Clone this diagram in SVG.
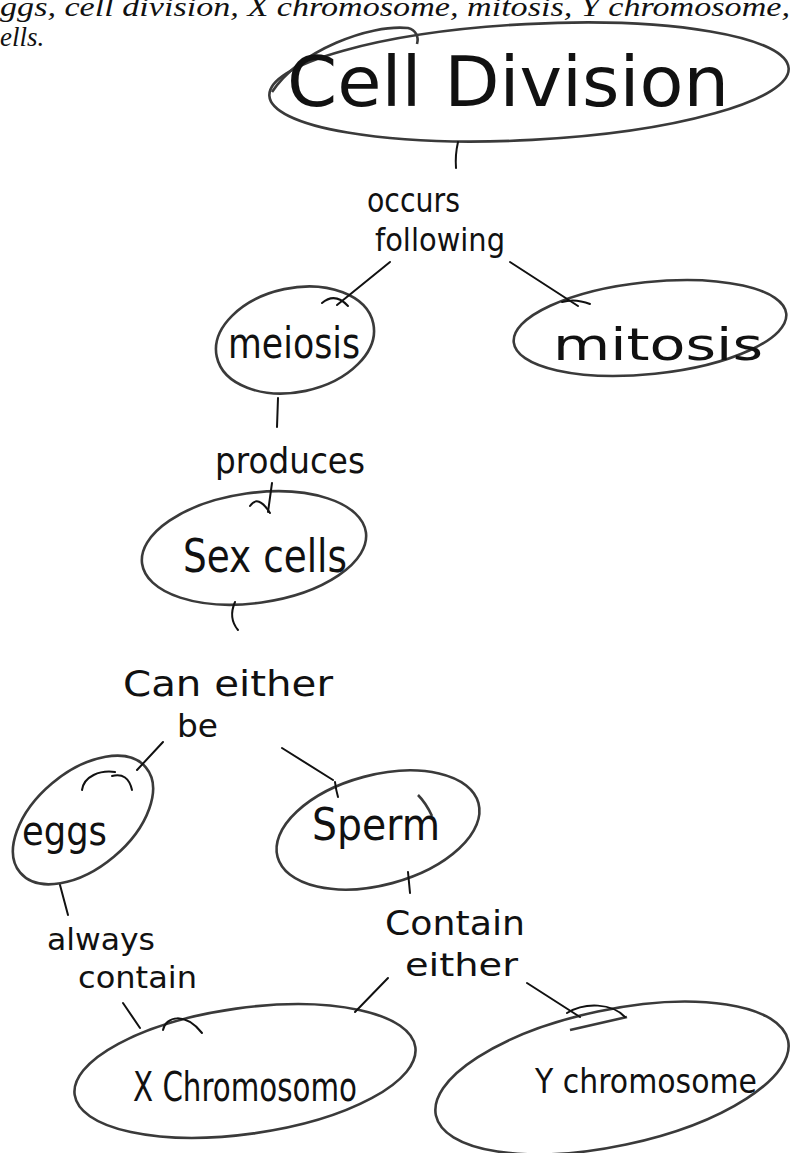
<svg xmlns="http://www.w3.org/2000/svg" width="793" height="1153" viewBox="0 0 793 1153">
<style>
.node{fill:none;stroke:#3a3a3a;stroke-width:2.6}
.hand{font-family:"DejaVu Sans",sans-serif;fill:#111}
.lbl{font-family:"DejaVu Sans",sans-serif;fill:#111}
.con{fill:none;stroke:#111;stroke-width:2;stroke-linecap:round}
.print{font-family:"Liberation Serif",serif;font-style:italic;font-size:27px;fill:#111}
</style>
<rect width="793" height="1153" fill="#fff"/>
<text class="print" x="0" y="16" textLength="790" lengthAdjust="spacingAndGlyphs">ggs, cell division, X chromosome, mitosis, Y chromosome,</text>
<text class="print" x="0" y="46">ells.</text>

<g id="cell-division">
<ellipse class="node" cx="529" cy="82" rx="260" ry="58" transform="rotate(-3 529 82)"/>
<path class="node" d="M272 92 C300 50 370 24 408 28 C416 30 419 37 417 44"/>
<text class="hand" x="287" y="106" font-size="70" textLength="442" lengthAdjust="spacingAndGlyphs">Cell Division</text>
</g>

<g id="meiosis">
<ellipse class="node" cx="295" cy="340" rx="80" ry="52" transform="rotate(-12 295 340)"/>
<text class="hand" x="228" y="358" font-size="42" textLength="132" lengthAdjust="spacingAndGlyphs">meiosis</text>
</g>

<g id="mitosis">
<ellipse class="node" cx="650" cy="328" rx="137" ry="46" transform="rotate(-6 650 328)"/>
<text class="hand" x="553" y="360" font-size="44" textLength="210" lengthAdjust="spacingAndGlyphs">mitosis</text>
</g>

<g id="sex-cells">
<ellipse class="node" cx="254" cy="548" rx="113" ry="55" transform="rotate(-8 254 548)"/>
<text class="hand" x="183" y="572" font-size="46" textLength="164" lengthAdjust="spacingAndGlyphs">Sex cells</text>
</g>

<g id="eggs">
<ellipse class="node" cx="83" cy="820" rx="82" ry="48" transform="rotate(-40 83 820)"/>
<text class="hand" x="22" y="845" font-size="40" textLength="85" lengthAdjust="spacingAndGlyphs">eggs</text>
</g>

<g id="sperm">
<ellipse class="node" cx="378" cy="830" rx="104" ry="55" transform="rotate(-15 378 830)"/>
<path class="node" d="M418 795 Q426 803 432 816"/>
<text class="hand" x="312" y="840" font-size="44" textLength="128" lengthAdjust="spacingAndGlyphs">Sperm</text>
</g>

<g id="x-chromosome">
<ellipse class="node" cx="245" cy="1071" rx="172" ry="63" transform="rotate(-8 245 1071)"/>
<text class="hand" x="133" y="1101" font-size="40" textLength="224" lengthAdjust="spacingAndGlyphs">X Chromosomo</text>
</g>

<g id="y-chromosome">
<ellipse class="node" cx="612" cy="1078" rx="180" ry="68" transform="rotate(-12 612 1078)"/>
<path class="node" d="M570 1030 L627 1017"/>
<text class="hand" x="535" y="1093" font-size="33" textLength="222" lengthAdjust="spacingAndGlyphs">Y chromosome</text>
</g>

<g id="labels">
<text class="lbl" x="367" y="212" font-size="34" textLength="93" lengthAdjust="spacingAndGlyphs">occurs</text>
<text class="lbl" x="375" y="251" font-size="32" textLength="130" lengthAdjust="spacingAndGlyphs">following</text>
<text class="lbl" x="215" y="473" font-size="36" textLength="150" lengthAdjust="spacingAndGlyphs">produces</text>
<text class="lbl" x="123" y="696" font-size="36" textLength="210" lengthAdjust="spacingAndGlyphs">Can either</text>
<text class="lbl" x="177" y="737" font-size="32" textLength="41" lengthAdjust="spacingAndGlyphs">be</text>
<text class="lbl" x="47" y="950" font-size="30" textLength="108" lengthAdjust="spacingAndGlyphs">always</text>
<text class="lbl" x="78" y="988" font-size="30" textLength="119" lengthAdjust="spacingAndGlyphs">contain</text>
<text class="lbl" x="385" y="935" font-size="34" textLength="140" lengthAdjust="spacingAndGlyphs">Contain</text>
<text class="lbl" x="405" y="976" font-size="32" textLength="113" lengthAdjust="spacingAndGlyphs">either</text>
</g>

<g id="connectors">
<path class="con" d="M458 142 Q455 155 456 168"/>
<path class="con" d="M390 262 L337 305"/>
<path class="con" d="M322 303 Q335 292 348 306"/>
<path class="con" d="M510 262 L578 306"/>
<path class="con" d="M562 302 Q575 298 590 304"/>
<path class="con" d="M278 398 L277 427"/>
<path class="con" d="M272 483 L268 512"/>
<path class="con" d="M250 506 Q258 494 270 513"/>
<path class="con" d="M235 602 Q228 618 238 630"/>
<path class="con" d="M163 742 L137 770"/>
<path class="con" d="M82 790 C84 776 100 770 115 772"/>
<path class="con" d="M112 776 Q128 772 132 790"/>
<path class="con" d="M282 748 L333 780"/>
<path class="con" d="M335 782 Q336 790 338 797"/>
<path class="con" d="M60 885 L68 915"/>
<path class="con" d="M408 872 L410 893"/>
<path class="con" d="M123 1003 L140 1028"/>
<path class="con" d="M163 1030 C166 1016 185 1012 202 1033"/>
<path class="con" d="M388 978 L355 1012"/>
<path class="con" d="M527 983 L580 1017"/>
<path class="con" d="M567 1013 C585 1002 612 1003 625 1017"/>
</g>
</svg>
